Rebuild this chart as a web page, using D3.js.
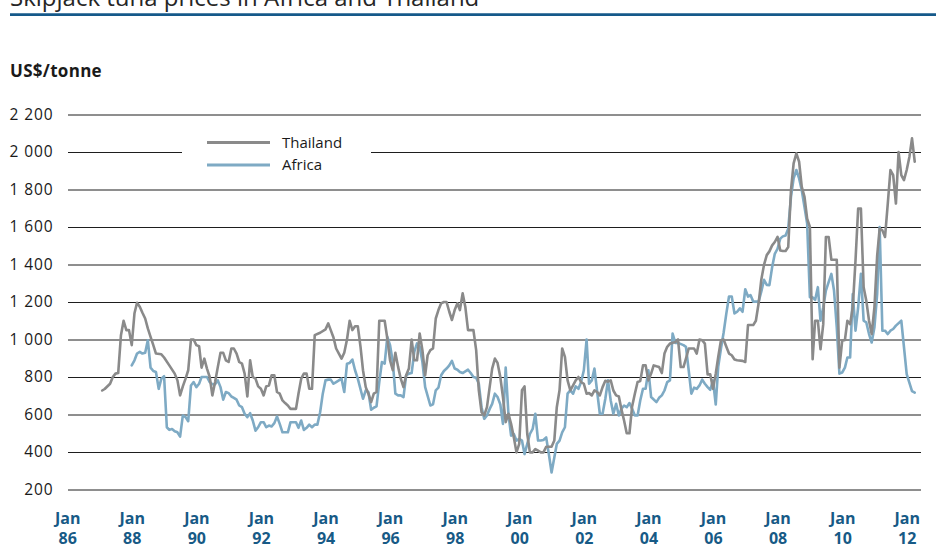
<!DOCTYPE html>
<html>
<head>
<meta charset="utf-8">
<script src="https://cdn.jsdelivr.net/npm/d3@7"></script>
<style>
  body { margin: 0; background: #fff; }
  svg { display: block; font-family: "Open Sans", "Noto Sans", sans-serif; }
</style>
</head>
<body>
<svg id="chart" width="936" height="545"></svg>
<script>
// Chart text
const chartTitle = "Skipjack tuna prices in Africa and Thailand";
const unitLabel = "US$/tonne";
const seriesNames = ["Thailand", "Africa"];

// Axis ticks
const yTicks = [200, 400, 600, 800, 1000, 1200, 1400, 1600, 1800, 2000, 2200];
const xTickYears = [1986, 1988, 1990, 1992, 1994, 1996, 1998, 2000, 2002, 2004, 2006, 2008, 2010, 2012];

// Monthly prices, US$/tonne
const thailand = [
  ["1987-02",728],["1987-03",736],["1987-05",764],["1987-06",800],["1987-07",818],["1987-08",821],
  ["1987-09",1023],["1987-10",1100],["1987-11",1050],["1987-12",1050],
  ["1988-01",970],["1988-02",1140],["1988-03",1196],["1988-04",1175],["1988-05",1143],["1988-06",1112],
  ["1988-07",1059],["1988-08",1014],["1988-09",970],["1988-10",925],["1988-12",921],
  ["1989-01",904],["1989-03",862],["1989-05",818],["1989-06",782],["1989-07",702],["1989-08",750],
  ["1989-09",791],["1989-10",836],["1989-11",1000],["1989-12",1000],
  ["1990-01",970],["1990-02",964],["1990-03",850],["1990-04",898],["1990-05",845],["1990-06",800],
  ["1990-07",702],["1990-08",773],["1990-09",854],["1990-10",929],["1990-11",929],["1990-12",889],
  ["1991-01",880],["1991-02",952],["1991-03",952],["1991-04",925],["1991-05",880],["1991-06",871],
  ["1991-07",818],["1991-08",696],["1991-09",889],["1991-10",800],["1991-11",791],["1991-12",750],
  ["1992-01",737],["1992-02",702],["1992-03",750],["1992-04",755],["1992-05",809],["1992-06",809],
  ["1992-07",720],["1992-08",711],["1992-09",675],["1992-10",661],["1992-11",648],["1992-12",630],
  ["1993-02",630],["1993-03",711],["1993-04",791],["1993-05",818],["1993-06",818],["1993-07",737],
  ["1993-08",737],["1993-09",1023],["1993-11",1036],
  ["1994-01",1054],["1994-02",1086],["1994-03",1050],["1994-04",1011],["1994-05",952],["1994-06",925],
  ["1994-07",898],["1994-08",929],["1994-09",1000],["1994-10",1100],["1994-11",1050],["1994-12",1071],
  ["1995-01",1071],["1995-02",961],["1995-03",836],["1995-04",746],["1995-05",711],["1995-06",666],
  ["1995-07",711],["1995-08",720],["1995-09",1100],["1995-11",1100],["1995-12",1005],
  ["1996-01",889],["1996-02",836],["1996-03",929],["1996-04",854],["1996-05",791],["1996-06",746],
  ["1996-07",809],["1996-08",845],["1996-09",1000],["1996-10",889],["1996-11",889],["1996-12",1032],
  ["1997-01",943],["1997-02",809],["1997-03",916],["1997-04",943],["1997-05",952],["1997-06",1112],
  ["1997-07",1157],["1997-08",1193],["1997-09",1200],["1997-10",1200],["1997-11",1148],["1997-12",1104],
  ["1998-01",1157],["1998-02",1193],["1998-03",1157],["1998-04",1246],["1998-05",1175],["1998-06",1050],
  ["1998-08",1050],["1998-09",943],["1998-10",729],["1998-11",612],["1998-12",595],
  ["1999-01",639],["1999-03",845],["1999-04",898],["1999-05",875],["1999-06",800],["1999-07",693],
  ["1999-08",559],["1999-09",604],["1999-10",550],["1999-11",478],["1999-12",398],
  ["2000-01",443],["2000-02",729],["2000-03",750],["2000-04",496],["2000-05",398],["2000-06",398],
  ["2000-07",416],["2000-08",407],["2000-09",398],["2000-10",398],["2000-11",428],
  ["2001-01",428],["2001-02",461],["2001-03",639],["2001-04",729],["2001-05",952],["2001-06",907],
  ["2001-07",782],["2001-08",729],["2001-09",755],["2001-10",782],["2001-11",800],["2001-12",773],
  ["2002-01",764],["2002-02",711],["2002-03",714],["2002-04",702],["2002-05",729],["2002-06",720],
  ["2002-07",702],["2002-08",746],["2002-09",780],["2002-10",775],["2002-11",782],["2002-12",728],
  ["2003-01",702],["2003-02",696],["2003-03",630],["2003-04",568],["2003-05",500],["2003-06",500],
  ["2003-07",643],["2003-08",711],["2003-09",773],["2003-10",778],["2003-11",862],["2003-12",862],
  ["2004-01",782],["2004-02",818],["2004-03",862],["2004-04",857],["2004-05",853],["2004-06",821],
  ["2004-07",925],["2004-08",961],["2004-09",978],["2004-10",982],["2004-11",987],["2004-12",1000],
  ["2005-01",853],["2005-02",853],["2005-03",898],["2005-04",952],["2005-05",952],["2005-06",952],
  ["2005-07",925],["2005-08",1000],["2005-09",996],["2005-10",978],["2005-11",814],["2005-12",814],
  ["2006-01",737],["2006-02",818],["2006-03",907],["2006-04",996],["2006-05",1000],["2006-06",961],
  ["2006-07",925],["2006-08",916],["2006-09",893],["2006-10",889],["2006-12",886],
  ["2007-01",880],["2007-02",1077],["2007-03",1077],["2007-04",1077],["2007-05",1100],["2007-06",1193],
  ["2007-07",1318],["2007-08",1398],["2007-09",1450],["2007-10",1470],["2007-11",1502],["2007-12",1520],
  ["2008-01",1547],["2008-02",1475],["2008-03",1472],["2008-04",1472],["2008-05",1493],["2008-06",1796],
  ["2008-07",1939],["2008-08",1993],["2008-09",1948],["2008-10",1814],["2008-11",1761],["2008-12",1645],
  ["2009-01",1600],["2009-02",895],["2009-03",1100],["2009-04",1100],["2009-05",948],["2009-06",1082],
  ["2009-07",1547],["2009-08",1547],["2009-09",1425],["2009-11",1425],["2009-12",850],
  ["2010-01",993],["2010-02",997],["2010-03",1100],["2010-04",1082],["2010-05",1172],["2010-06",1422],
  ["2010-07",1698],["2010-08",1698],["2010-09",1279],["2010-10",1207],["2010-11",1100],["2010-12",1029],
  ["2011-01",1172],["2011-02",1448],["2011-03",1591],["2011-04",1582],["2011-05",1547],["2011-06",1725],
  ["2011-07",1904],["2011-08",1877],["2011-09",1725],["2011-10",2000],["2011-11",1877],["2011-12",1850],
  ["2012-01",1904],["2012-02",1975],["2012-03",2073],["2012-04",1948]
];

const africa = [
  ["1988-01",862],["1988-02",889],["1988-03",925],["1988-04",934],["1988-05",925],["1988-06",929],
  ["1988-07",996],["1988-08",850],["1988-09",832],["1988-10",827],["1988-11",737],["1988-12",791],
  ["1989-01",804],["1989-02",532],["1989-03",518],["1989-04",523],["1989-05",511],["1989-06",505],
  ["1989-07",482],["1989-08",595],["1989-09",586],["1989-10",564],["1989-11",755],["1989-12",773],
  ["1990-01",746],["1990-02",764],["1990-03",800],["1990-04",800],["1990-05",800],["1990-06",773],
  ["1990-07",761],["1990-08",761],["1990-09",782],["1990-10",746],["1990-11",679],["1990-12",720],
  ["1991-01",714],["1991-02",696],["1991-03",689],["1991-04",679],["1991-05",648],["1991-06",639],
  ["1991-07",604],["1991-08",586],["1991-09",607],["1991-10",568],["1991-11",514],["1991-12",532],
  ["1992-01",559],["1992-02",559],["1992-03",532],["1992-04",541],["1992-05",536],["1992-06",554],
  ["1992-07",589],["1992-08",550],["1992-09",505],["1992-11",505],["1992-12",559],
  ["1993-01",559],["1993-02",559],["1993-03",529],["1993-04",568],["1993-05",518],["1993-06",529],
  ["1993-07",546],["1993-08",532],["1993-09",546],["1993-10",546],["1993-11",612],["1993-12",711],
  ["1994-01",782],["1994-02",786],["1994-03",786],["1994-04",764],["1994-05",773],["1994-06",782],
  ["1994-07",791],["1994-08",720],["1994-09",871],["1994-10",875],["1994-11",893],["1994-12",836],
  ["1995-01",791],["1995-03",684],["1995-04",729],["1995-05",720],["1995-06",625],["1995-07",636],
  ["1995-08",643],["1995-09",773],["1995-10",880],["1995-11",871],["1995-12",1014],
  ["1996-01",970],["1996-02",880],["1996-03",711],["1996-04",702],["1996-05",702],["1996-06",693],
  ["1996-07",809],["1996-08",818],["1996-09",821],["1996-10",934],["1996-11",979],["1996-12",961],
  ["1997-01",880],["1997-02",746],["1997-04",648],["1997-05",654],["1997-06",729],["1997-07",743],
  ["1997-08",809],["1997-09",832],["1997-10",845],["1997-11",862],["1997-12",886],
  ["1998-01",845],["1998-02",839],["1998-03",827],["1998-04",821],["1998-06",839],["1998-07",821],
  ["1998-08",800],["1998-09",796],["1998-10",764],["1998-11",639],["1998-12",577],
  ["1999-01",595],["1999-02",630],["1999-03",657],["1999-04",711],["1999-05",693],["1999-06",654],
  ["1999-07",550],["1999-08",850],["1999-09",604],["1999-10",487],["1999-11",496],["1999-12",461],
  ["2000-01",470],["2000-02",461],["2000-03",389],["2000-04",443],["2000-05",496],["2000-06",523],
  ["2000-07",604],["2000-08",461],["2000-09",461],["2000-10",464],["2000-11",478],["2000-12",389],
  ["2001-01",291],["2001-02",371],["2001-03",443],["2001-04",461],["2001-05",505],["2001-06",532],
  ["2001-07",711],["2001-08",729],["2001-09",711],["2001-10",750],["2001-11",737],["2001-12",773],
  ["2002-01",836],["2002-02",1000],["2002-03",764],["2002-04",782],["2002-05",845],["2002-06",720],
  ["2002-07",604],["2002-08",604],["2002-09",684],["2002-10",782],["2002-11",675],["2002-12",604],
  ["2003-01",657],["2003-02",595],["2003-03",630],["2003-04",648],["2003-05",639],["2003-06",661],
  ["2003-07",630],["2003-08",595],["2003-09",595],["2003-10",675],["2003-11",737],["2003-12",737],
  ["2004-01",836],["2004-02",693],["2004-04",666],["2004-05",689],["2004-06",702],["2004-07",728],
  ["2004-08",773],["2004-09",782],["2004-10",1032],["2004-11",982],["2004-12",982],
  ["2005-02",970],["2005-03",961],["2005-04",836],["2005-05",711],["2005-06",743],["2005-07",737],
  ["2005-08",755],["2005-09",786],["2005-10",764],["2005-11",746],["2005-12",732],
  ["2006-01",782],["2006-02",653],["2006-03",854],["2006-04",952],["2006-05",1036],["2006-06",1139],
  ["2006-07",1229],["2006-08",1229],["2006-09",1139],["2006-10",1148],["2006-11",1166],["2006-12",1148],
  ["2007-01",1268],["2007-02",1229],["2007-03",1237],["2007-04",1202],["2007-05",1202],["2007-06",1202],
  ["2007-07",1255],["2007-08",1318],["2007-09",1291],["2007-10",1290],["2007-11",1386],["2007-12",1457],
  ["2008-01",1484],["2008-02",1538],["2008-03",1550],["2008-04",1555],["2008-05",1591],["2008-06",1761],
  ["2008-07",1859],["2008-08",1904],["2008-09",1859],["2008-10",1796],["2008-11",1707],["2008-12",1618],
  ["2009-01",1225],["2009-02",1225],["2009-03",1211],["2009-04",1279],["2009-05",1100],["2009-06",1172],
  ["2009-07",1261],["2009-08",1306],["2009-09",1350],["2009-10",1261],["2009-11",1065],["2009-12",818],
  ["2010-01",824],["2010-02",850],["2010-03",904],["2010-04",904],["2010-05",1243],["2010-06",1047],
  ["2010-07",1172],["2010-08",1350],["2010-09",1100],["2010-10",1091],["2010-11",1029],["2010-12",984],
  ["2011-01",1065],["2011-02",1243],["2011-03",1600],["2011-04",1047],["2011-05",1047],["2011-06",1029],
  ["2011-07",1047],["2011-08",1056],["2011-09",1074],["2011-11",1100],
  ["2012-01",815],["2012-03",725],["2012-04",717]
];

const seriesColors = ["#8a8a8a", "#7eaac4"];

const parseMonth = d3.timeParse("%Y-%m");
const toPoints = rows => rows.map(([m, v]) => ({ date: parseMonth(m), value: v }));
const series = [
  { name: seriesNames[0], color: seriesColors[0], points: toPoints(thailand) },
  { name: seriesNames[1], color: seriesColors[1], points: toPoints(africa) }
];

const svg = d3.select("#chart");

const plotLeft = 68, plotRight = 921;
const x = d3.scaleTime()
  .domain([new Date(1986, 0, 1), new Date(2012, 0, 1)])
  .range([67.2, 906.7]);
const y = d3.scaleLinear()
  .domain([200, 2200])
  .range([489.5, 114.5]);

// Heading and rule
svg.append("text")
  .attr("x", 10).attr("y", 5.5)
  .attr("font-size", 24)
  .attr("fill", "#262626")
  .text(chartTitle);
svg.append("line")
  .attr("x1", 10).attr("x2", 936)
  .attr("y1", 14.6).attr("y2", 14.6)
  .attr("stroke", "#15598a").attr("stroke-width", 2.6);

// Unit label
svg.append("text")
  .attr("x", 10).attr("y", 77)
  .attr("font-size", 17).attr("font-weight", 700)
  .attr("letter-spacing", 0.3)
  .attr("fill", "#1a1a1a")
  .text(unitLabel);

// Y axis with full-width gridlines
const fmt = d3.format(",");
const yAxis = d3.axisLeft(y)
  .tickValues(yTicks)
  .tickSize(-(plotRight - plotLeft))
  .tickPadding(14.5)
  .tickFormat(d => fmt(d).replace(/,/g, " "));

const yg = svg.append("g")
  .attr("transform", `translate(${plotLeft},0)`)
  .call(yAxis);
yg.select(".domain").remove();
yg.selectAll(".tick line").attr("stroke", "#1e1e1e").attr("stroke-width", 1);
yg.selectAll(".tick text")
  .attr("font-size", 15.5)
  .attr("letter-spacing", 0.9)
  .attr("font-family", "\"Open Sans\", sans-serif")
  .attr("fill", "#1a1a1a");

// X axis: "Jan" over two-digit year
const xAxis = d3.axisBottom(x)
  .tickValues(xTickYears.map(yr => new Date(yr, 0, 1)))
  .tickSize(0)
  .tickFormat("");
const xg = svg.append("g")
  .attr("transform", "translate(0,500)")
  .call(xAxis);
xg.select(".domain").remove();
xg.selectAll(".tick text").each(function(d) {
  const t = d3.select(this)
    .attr("y", null).attr("dy", null)
    .attr("font-size", 16).attr("font-weight", 700)
    .attr("font-family", "\"Open Sans\", sans-serif")
    .attr("fill", "#175a86");
  t.append("tspan").attr("x", 0).attr("y", 23.5).text("Jan");
  t.append("tspan").attr("x", 0).attr("y", 44).text(d3.timeFormat("%y")(d));
});

// Legend, with the gridline cleared behind it
const legend = svg.append("g");
legend.append("rect")
  .attr("x", 182).attr("y", 132).attr("width", 189).attr("height", 42)
  .attr("fill", "#fff");
series.forEach((s, i) => {
  const ly = 142.5 + i * 22.5;
  legend.append("line")
    .attr("x1", 207).attr("x2", 270)
    .attr("y1", ly).attr("y2", ly)
    .attr("stroke", s.color).attr("stroke-width", 2.8);
  legend.append("text")
    .attr("x", 282).attr("y", ly)
    .attr("dy", "0.35em")
    .attr("font-size", 15)
    .attr("fill", "#1a1a1a")
    .text(s.name);
});

// Price lines (Thailand drawn last, on top)
const line = d3.line()
  .x(d => x(d.date))
  .y(d => y(d.value));

svg.append("g")
  .selectAll("path")
  .data(series.slice().reverse())
  .join("path")
  .attr("d", d => line(d.points))
  .attr("fill", "none")
  .attr("stroke", d => d.color)
  .attr("stroke-width", 2.6)
  .attr("stroke-linejoin", "round")
  .attr("stroke-linecap", "round");
</script>
</body>
</html>
